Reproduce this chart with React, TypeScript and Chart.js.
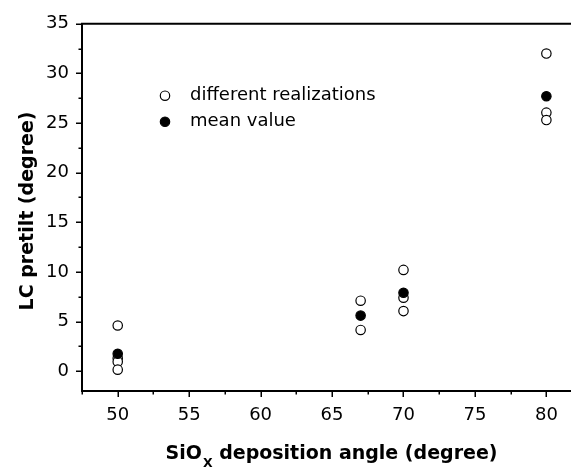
import React, { useEffect, useRef } from "react";
import { Chart, registerables } from "chart.js";

Chart.register(...registerables);

// ---- data ----
const realizationX = [50, 50, 50, 50, 67, 67, 70, 70, 70, 80, 80, 80];
const realizationY = [4.6, 1.3, 0.95, 0.15, 7.1, 4.15, 10.2, 7.4, 6.05, 32.0, 26.05, 25.3];
const meanX = [50, 67, 70, 80];
const meanY = [1.75, 5.6, 7.9, 27.7];

const xMajorTicks = [50, 55, 60, 65, 70, 75, 80];
const xMinorTicks = [47.5, 52.5, 57.5, 62.5, 67.5, 72.5, 77.5, 82.5];
const yMajorTicks = [0, 5, 10, 15, 20, 25, 30, 35];
const yMinorTicks = [2.5, 7.5, 12.5, 17.5, 22.5, 27.5, 32.5];

const legendLabels = ["different realizations", "mean value"];
const xTitleMain = "SiO";
const xTitleSub = "X";
const xTitleRest = " deposition angle (degree)";
const yTitle = "LC pretilt (degree)";

const FONT = "'DejaVu Sans', sans-serif";

const decorPlugin = {
  id: "decor",
  afterDraw(chart: any) {
    const ctx: CanvasRenderingContext2D = chart.ctx;
    const { left, top, right, bottom } = chart.chartArea;
    const xs = chart.scales.x;
    const ys = chart.scales.y;
    ctx.save();
    ctx.strokeStyle = "#000";
    ctx.fillStyle = "#000";
    // frame
    ctx.lineWidth = 2;
    ctx.lineJoin = "miter";
    ctx.beginPath();
    ctx.moveTo(right, top);
    ctx.lineTo(left, top);
    ctx.lineTo(left, bottom);
    ctx.lineTo(right, bottom);
    ctx.stroke();
    // ticks
    ctx.lineWidth = 1.5;
    ctx.beginPath();
    yMajorTicks.forEach((v) => {
      const p = Math.round(ys.getPixelForValue(v)) + 0.25;
      ctx.moveTo(left, p);
      ctx.lineTo(left - 6, p);
    });
    yMinorTicks.forEach((v) => {
      const p = Math.round(ys.getPixelForValue(v)) + 0.25;
      ctx.moveTo(left, p);
      ctx.lineTo(left - 3.5, p);
    });
    xMajorTicks.forEach((v) => {
      const p = Math.round(xs.getPixelForValue(v)) + 0.25;
      ctx.moveTo(p, bottom);
      ctx.lineTo(p, bottom + 6);
    });
    xMinorTicks.forEach((v) => {
      const p = Math.round(xs.getPixelForValue(v)) + 0.25;
      ctx.moveTo(p, bottom);
      ctx.lineTo(p, bottom + 3.5);
    });
    ctx.stroke();

    // legend
    const lx = 165;
    const ly = [95.7, 121.7];
    ctx.lineWidth = 1.2;
    ctx.beginPath();
    ctx.arc(lx, ly[0], 4.7, 0, Math.PI * 2);
    ctx.fillStyle = "#fff";
    ctx.fill();
    ctx.stroke();
    ctx.beginPath();
    ctx.arc(lx, ly[1], 4.7, 0, Math.PI * 2);
    ctx.fillStyle = "#000";
    ctx.fill();
    ctx.stroke();
    ctx.font = `18px ${FONT}`;
    ctx.textBaseline = "middle";
    ctx.textAlign = "left";
    legendLabels.forEach((t, i) => ctx.fillText(t, 190, ly[i]));

    // x title
    const mainFont = `bold 19px ${FONT}`;
    const subFont = `bold 12.5px ${FONT}`;
    ctx.textBaseline = "alphabetic";
    ctx.font = mainFont;
    const w1 = ctx.measureText(xTitleMain).width;
    const w3 = ctx.measureText(xTitleRest).width;
    ctx.font = subFont;
    const w2 = ctx.measureText(xTitleSub).width + 1;
    const total = w1 + w2 + w3;
    const cx = 331.5;
    const x0 = cx - total / 2;
    const base = 458.5;
    ctx.font = mainFont;
    ctx.fillText(xTitleMain, x0, base);
    ctx.font = subFont;
    ctx.fillText(xTitleSub, x0 + w1 + 1, base + 8);
    ctx.font = mainFont;
    ctx.fillText(xTitleRest, x0 + w1 + w2, base);

    // y title
    ctx.save();
    ctx.translate(28, 211);
    ctx.rotate(-Math.PI / 2);
    ctx.font = mainFont;
    ctx.textAlign = "center";
    ctx.textBaseline = "middle";
    ctx.fillText(yTitle, 0, 0);
    ctx.restore();

    ctx.restore();
  },
};

export default function App() {
  const ref = useRef<HTMLCanvasElement | null>(null);
  useEffect(() => {
    if (!ref.current) return;
    const chart = new Chart(ref.current, {
      type: "scatter",
      data: {
        datasets: [
          {
            label: legendLabels[1],
            data: meanX.map((x, i) => ({ x, y: meanY[i] })),
            pointRadius: 4.7,
            pointHoverRadius: 4.7,
            pointBorderWidth: 1.2,
            borderColor: "#000",
            backgroundColor: "#000",
            order: 0,
          },
          {
            label: legendLabels[0],
            data: realizationX.map((x, i) => ({ x, y: realizationY[i] })),
            pointRadius: 4.7,
            pointHoverRadius: 4.7,
            pointBorderWidth: 1.2,
            borderColor: "#000",
            backgroundColor: "#fff",
            order: 1,
          },
        ],
      },
      options: {
        animation: false,
        responsive: false,
        events: [],
        layout: { padding: { top: 21, left: 0, right: 0, bottom: 0 } },
        plugins: { legend: { display: false }, tooltip: { enabled: false } },
        scales: {
          x: {
            type: "linear",
            min: 47.5,
            max: 82.5,
            afterBuildTicks: (s: any) => {
              s.ticks = xMajorTicks.map((v) => ({ value: v }));
            },
            afterFit: (s: any) => {
              s.height = 77;
            },
            grid: { display: false, drawTicks: false },
            border: { display: false },
            ticks: {
              padding: 14,
              color: "#000",
              font: { family: FONT, size: 18 },
              callback: (v: any) => String(v),
            },
          },
          y: {
            type: "linear",
            min: -2,
            max: 35,
            afterBuildTicks: (s: any) => {
              s.ticks = yMajorTicks.map((v) => ({ value: v }));
            },
            afterFit: (s: any) => {
              s.width = 82;
            },
            grid: { display: false, drawTicks: false },
            border: { display: false },
            ticks: {
              padding: 13,
              color: "#000",
              font: { family: FONT, size: 18 },
              callback: (v: any) => String(v),
            },
          },
        },
      },
      plugins: [decorPlugin],
    });
    return () => chart.destroy();
  }, []);
  return (
    <div
      style={{
        position: "absolute",
        left: 0,
        top: 0,
        width: 571,
        height: 468,
        overflow: "hidden",
        background: "#fff",
      }}
    >
      <canvas ref={ref} width={588} height={468} style={{ width: 588, height: 468, display: "block" }} />
    </div>
  );
}
